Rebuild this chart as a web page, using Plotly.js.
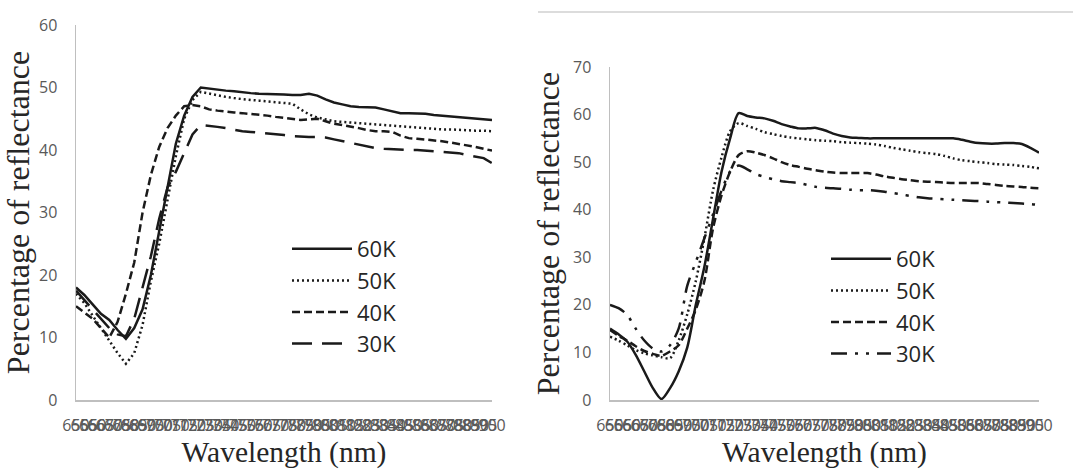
<!DOCTYPE html>
<html>
<head>
<meta charset="utf-8">
<script src="https://cdn.plot.ly/plotly-3.0.1.min.js"></script>
<style>html,body{margin:0;padding:0;background:#fff;}#chart{width:1073px;height:470px;}</style>
</head>
<body>
<div id="chart"></div>
<script>
// Wavelength categories (nm)
const wavelengths = ["650","655","660","665","670","675","680","685","690","695","700","705","710","715","720","725","730","735","740","745","750","755","760","765","770","775","780","785","790","795","800","805","810","815","820","825","830","835","840","845","850","855","860","865","870","875","880","885","890","895","900"];
const seriesNames = ["60K","50K","40K","30K"];

// Left panel
const left60 = [18,16.8,15.3,13.8,12.8,11.2,9.8,11.5,14.5,20,27,34,41,45.5,48.5,50,49.8,49.7,49.5,49.4,49.2,49.1,49,49,48.9,48.9,48.8,48.8,49,48.7,48.1,47.6,47.3,47,46.9,46.9,46.8,46.5,46.2,45.9,45.9,45.9,45.8,45.6,45.5,45.3,45.2,45.1,45,44.9,44.8];
const left50 = [17,15.5,13.5,11.5,9.5,7.5,5.8,7.5,12,19,25,32,39,45,48,49.3,49,48.8,48.5,48.3,48.1,48,47.9,47.8,47.7,47.6,47.4,46.5,45.7,45.2,44.9,44.6,44.5,44.4,44.3,44.2,44.1,43.9,43.8,43.7,43.6,43.5,43.4,43.4,43.3,43.3,43.2,43.2,43.1,43.1,43];
const left40 = [15,14,13,11.5,10,12.5,17,22,30,36,40.5,43.5,45.5,47,47.2,47,46.5,46.3,46.1,46,45.9,45.8,45.7,45.5,45.3,45.1,44.9,44.8,44.9,45,44.6,44.2,44,43.8,43.5,43.2,43,43,42.9,42.3,41.9,41.8,41.7,41.6,41.4,41.2,41,40.8,40.5,40.2,39.9];
const left30 = [17.5,16,14.5,13,11.5,10.5,10.2,13,18,23,29,34,36.5,39.5,42.5,44,43.9,43.7,43.5,43.2,43,42.9,42.8,42.7,42.6,42.4,42.2,42.1,42.1,42.1,42,41.7,41.4,41.1,40.8,40.5,40.3,40.2,40.1,40,40,40,39.9,39.8,39.7,39.7,39.5,39.2,39,38.7,37.9];

// Right panel
const right60 = [15,13.8,12.3,9.5,6,2.5,0.2,2.5,6,11,20,28,38,48,55,60.3,59.7,59.4,59.2,58.7,58,57.5,57.1,57.1,57.2,56.7,56,55.5,55.2,55.1,55,55,55,55,55,55,55,55,55,55,55,54.7,54.3,54,53.9,53.9,54,54,53.8,53,52];
const right50 = [13.3,12.5,11.5,10.5,9.8,9.4,9,8.8,12.5,18,25,34,44,51,56.5,58.2,57.6,57,56.3,55.9,55.5,55.2,55,54.8,54.6,54.5,54.4,54.2,54.1,54,53.9,53.7,53.4,53,52.7,52.4,52.1,51.9,51.7,51.3,50.8,50.4,50.2,50,49.8,49.6,49.5,49.4,49.2,49,48.7];
const right40 = [14.7,13.5,12.5,11.3,10.3,9.7,9.3,10.2,11.5,15,19,25,36,43,48,51.5,52.3,52,51.5,50.8,50,49.4,49,48.6,48.3,48,47.8,47.7,47.7,47.7,47.7,47.4,47,46.7,46.4,46.2,46,45.9,45.8,45.7,45.6,45.6,45.6,45.6,45.4,45.2,45,44.9,44.8,44.6,44.5];
const right30 = [20,19.3,17.9,15,12.5,10.8,10.2,11.5,15,24,29,34,39,44,48,49.3,48.5,47.5,46.9,46.4,46,45.8,45.6,45.2,44.8,44.6,44.5,44.4,44.2,44.1,44.1,44,43.8,43.5,43.2,42.9,42.6,42.4,42.3,42.2,42.1,42,41.9,41.8,41.7,41.6,41.5,41.4,41.3,41.2,41];

const lineColor = "#1a1a1a";
const leftDash = ["solid","2px,3px","8px,4px","20px,10px"];
const rightDash = ["solid","2px,3px","8px,4px","16px,8px,3px,8px,3px,8px"];
const leftData = [left60,left50,left40,left30];
const rightData = [right60,right50,right40,right30];

const traces = [];
leftData.forEach((ys,i)=>{
  traces.push({x:wavelengths,y:ys,type:"scatter",mode:"lines",name:seriesNames[i],
    xaxis:"x",yaxis:"y",legend:"legend",
    line:{color:lineColor,width:2.5,dash:leftDash[i],shape:"linear"}});
});
rightData.forEach((ys,i)=>{
  traces.push({x:wavelengths,y:ys,type:"scatter",mode:"lines",name:seriesNames[i],
    xaxis:"x2",yaxis:"y2",legend:"legend2",
    line:{color:lineColor,width:2.5,dash:rightDash[i],shape:"spline",smoothing:0.8}});
});

const tickFont = {family:"Open Sans, sans-serif",size:16,color:"#595959"};
const xTitleFont = {family:"Liberation Serif, serif",size:29.5,color:"#262626"};
const yTitleFont = {family:"Liberation Serif, serif",size:32,color:"#262626"};
const W=1073,H=470;
function xAxis(x0,x1,anchor){
  return {domain:[x0/W,x1/W],anchor:anchor,type:"category",range:[0,wavelengths.length-1],
    tickmode:"array",tickvals:wavelengths,ticktext:wavelengths,tickangle:0,
    showline:true,linecolor:"#bfbfbf",linewidth:1.5,showgrid:false,zeroline:false,
    ticks:"outside",ticklen:10,tickcolor:"rgba(0,0,0,0)",tickfont:tickFont,
    title:{text:"Wavelength (nm)",font:xTitleFont,standoff:2},automargin:false};
}
function yAxis(y0,y1,maxv,anchor){
  return {domain:[(H-y0)/H,(H-y1)/H],anchor:anchor,range:[0,maxv],dtick:10,
    showline:true,linecolor:"#bfbfbf",linewidth:1.5,showgrid:false,zeroline:false,
    ticks:"outside",ticklen:14,tickcolor:"rgba(0,0,0,0)",tickfont:tickFont,
    title:{text:"Percentage of reflectance",font:yTitleFont,standoff:4},automargin:false};
}
const legendFont = {family:"Open Sans, sans-serif",size:22,color:"#262626"};
const layout = {
  width:W,height:H,margin:{l:0,r:0,t:0,b:0},paper_bgcolor:"#fff",plot_bgcolor:"#fff",
  showlegend:true,
  xaxis:xAxis(76,492,"y"),
  yaxis:yAxis(400,25,60,"x"),
  xaxis2:xAxis(610,1039,"y2"),
  yaxis2:yAxis(400,67,70,"x2"),
  legend:{x:287/W,y:(H-228)/H,xanchor:"left",yanchor:"top",font:legendFont,bgcolor:"rgba(0,0,0,0)",tracegroupgap:0,itemwidth:60},
  legend2:{x:826/W,y:(H-238)/H,xanchor:"left",yanchor:"top",font:legendFont,bgcolor:"rgba(0,0,0,0)",tracegroupgap:0,itemwidth:60},
  shapes:[{type:"line",xref:"paper",yref:"paper",x0:538/W,x1:1,y0:(H-12)/H,y1:(H-12)/H,line:{color:"#d0d0d0",width:1.5}}]
};
Plotly.newPlot("chart",traces,layout,{displayModeBar:false,staticPlot:true});
</script>
</body>
</html>
